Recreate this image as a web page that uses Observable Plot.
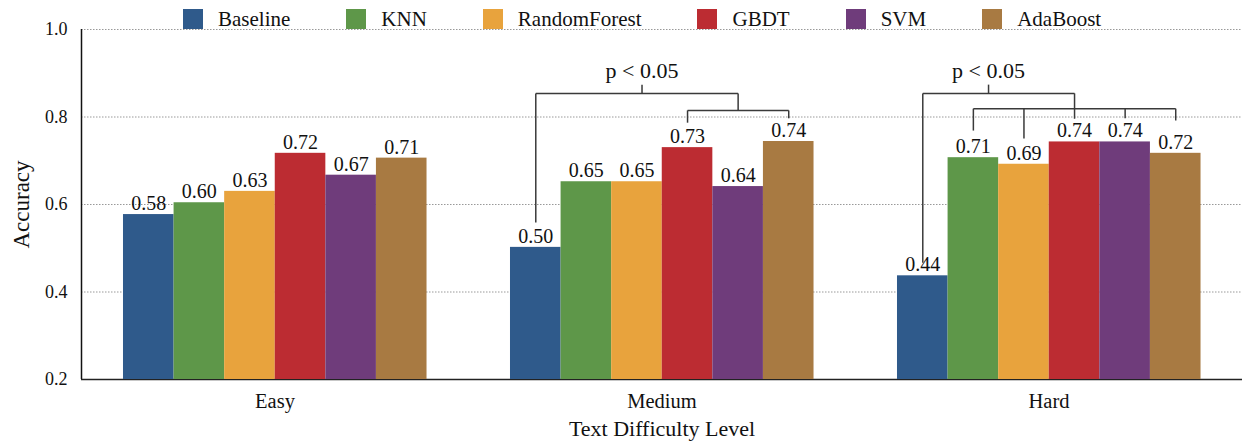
<!DOCTYPE html>
<html><head><meta charset="utf-8">
<script src="https://cdn.jsdelivr.net/npm/d3@7"></script>
<script src="https://cdn.jsdelivr.net/npm/@observablehq/plot@0.6"></script>
<style>
body{margin:0;background:#fff;font-family:"Liberation Serif","Times New Roman",serif;}
#wrap{position:relative;width:1242px;height:443px;}
#wrap svg{position:absolute;left:0;top:0;}
#legend{position:absolute;top:9px;left:183px;display:flex;align-items:center;font-size:21px;color:#111;z-index:2;}
.item{display:flex;align-items:center;margin-right:56px;line-height:20px;}
.sw{width:20px;height:20px;margin-right:15px;}
</style></head><body><div id="wrap"><div id="legend"></div></div>
<script>
const groups = ["Easy", "Medium", "Hard"];
const models = ["Baseline", "KNN", "RandomForest", "GBDT", "SVM", "AdaBoost"];
const colors = ["#2f5a8b", "#5e9749", "#e8a33d", "#bc2c32", "#6f3c7b", "#a87a42"];
const easyValues = [0.577, 0.604, 0.630, 0.717, 0.667, 0.706];
const mediumValues = [0.502, 0.652, 0.652, 0.730, 0.641, 0.744];
const hardValues = [0.437, 0.707, 0.692, 0.743, 0.743, 0.717];
const yTicks = [0.2, 0.4, 0.6, 0.8, 1.0];
const gridTicks = [0.4, 0.6, 0.8, 1.0];
// significance brackets: positions in bar-index units, heights in accuracy units
const brackets = [
  {group: "Medium", label: "p < 0.05", labelAt: 2.1, top: 0.854, tickTop: 0.874, labelY: 0.906,
   left: 0, leftEnd: 0.559, join: 4, sub: 0.815, legs: [[3, 0.787], [5, 0.797]]},
  {group: "Hard", label: "p < 0.05", labelAt: 1.3, top: 0.854, tickTop: 0.874, labelY: 0.906,
   left: 0, leftEnd: 0.467, join: 3, sub: 0.819, legs: [[1, 0.769], [2, 0.751], [3, 0.796], [4, 0.797], [5, 0.792]]}
];
const seriesByGroup = [easyValues, mediumValues, hardValues];
const xDomain = [-0.83, 6.82];

const rows = groups.flatMap((g, gi) => models.map((m, mi) => ({group: g, model: m, i: mi, value: seriesByGroup[gi][mi]})));
const segs = [];
const c = i => i + 0.5;
for (const b of brackets) {
  const s = (x1, y1, x2, y2) => segs.push({group: b.group, x1, y1, x2, y2});
  s(c(b.left), b.leftEnd, c(b.left), b.top);
  s(c(b.left), b.top, c(b.join), b.top);
  s(c(b.join), b.top, c(b.join), b.sub);
  const lx = b.legs.map(d => d[0]);
  s(c(Math.min(...lx)), b.sub, c(Math.max(...lx)), b.sub);
  for (const [i, v] of b.legs) s(c(i), b.sub, c(i), v);
  s(c(b.labelAt), b.top, c(b.labelAt), b.tickTop);
}

const legend = document.getElementById("legend");
models.forEach((m, k) => {
  const it = document.createElement("div"); it.className = "item";
  it.innerHTML = `<div class="sw" style="background:${colors[k]}"></div><span>${m}</span>`;
  legend.appendChild(it);
});

const font = "Liberation Serif";
const chart = Plot.plot({
  width: 1242, height: 443,
  marginTop: 29, marginBottom: 64, marginLeft: 80, marginRight: 0,
  style: {fontFamily: font, color: "#111", background: "transparent"},
  fx: {domain: groups, padding: 0, label: null},
  x: {domain: xDomain, axis: null},
  y: {domain: [0.2, 1.0]},
  color: {domain: models, range: colors},
  marks: [
    Plot.ruleY(gridTicks, {stroke: "#999", strokeDasharray: "1.5,1.5", strokeWidth: 1}),
    Plot.ruleY([0.2], {stroke: "#222", strokeWidth: 1.5}),
    Plot.rectY(rows, {fx: "group", x1: "i", x2: d => d.i + 1, y1: 0.2, y2: "value", fill: "model"}),
    Plot.ruleX(["Easy"], {fx: d => d, x: xDomain[0], y1: 0.2, y2: 1.0, stroke: "#111", strokeWidth: 1.5}),
    Plot.text(rows, {fx: "group", x: d => d.i + 0.5, y: "value", text: d => d.value.toFixed(2), lineAnchor: "bottom", dy: -4.5, fontSize: 20, fill: "#111"}),
    Plot.link(segs, {fx: "group", x1: "x1", y1: "y1", x2: "x2", y2: "y2", stroke: "#3a3a3a", strokeWidth: 1.5}),
    Plot.text(brackets, {fx: "group", x: d => c(d.labelAt), y: "labelY", text: "label", fontSize: 22, fill: "#111"}),
    Plot.axisY(yTicks, {tickSize: 0, tickPadding: 14, fontSize: 18, tickFormat: d => d.toFixed(1), label: null}),
    Plot.axisY([], {tickSize: 0, label: "Accuracy", labelAnchor: "center", labelArrow: "none", labelOffset: 69, fontSize: 23}),
    Plot.axisFx({anchor: "bottom", tickSize: 0, tickPadding: 14, fontSize: 20.5, label: null}),
    Plot.axisFx([], {anchor: "bottom", tickSize: 0, label: "Text Difficulty Level", labelAnchor: "center", labelArrow: "none", labelOffset: 56, fontSize: 22})
  ]
});
document.getElementById("wrap").appendChild(chart);
</script></body></html>
